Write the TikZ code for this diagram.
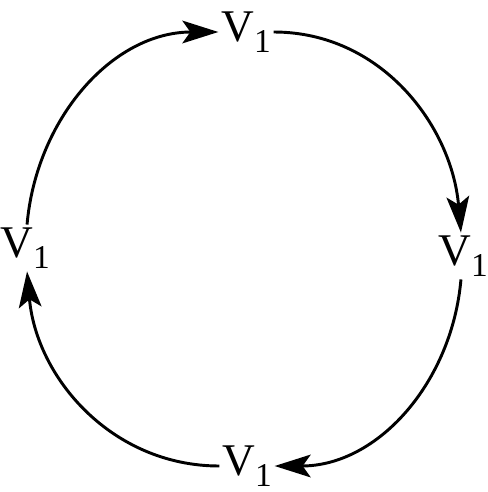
\documentclass[tikz,border=0pt]{standalone}
\usepackage{fontspec}
\setmainfont{Liberation Serif}
\usetikzlibrary{arrows.meta}
\newcommand{\vone}{V\raisebox{-0.25em}{\fontsize{25}{25}\selectfont 1}}
\tikzset{
  vtx/.style={inner sep=2pt,font=\fontsize{34}{36}\selectfont},
  edge/.style={-{Stealth[length=27pt,width=17pt,inset=6pt]},line width=2.2pt},
}
\begin{document}
\begin{tikzpicture}[x=0.75pt,y=-0.75pt]
  \useasboundingbox (0,0) rectangle (488,492);
  \node[vtx] (top)    at (246,32)  {\vone};
  \node[vtx] (right)  at (463,256) {\vone};
  \node[vtx] (bottom) at (247,466) {\vone};
  \node[vtx] (left)   at (25,248)  {\vone};

  \draw[edge] (top) to[out=0,in=95,looseness=1] (right);
  \draw[edge] (right) to[out=-95,in=0,looseness=1] (bottom);
  \draw[edge] (bottom) to[out=180,in=-85,looseness=1] (left);
  \draw[edge] (left) to[out=85,in=180,looseness=1] (top);
\end{tikzpicture}
\end{document}
